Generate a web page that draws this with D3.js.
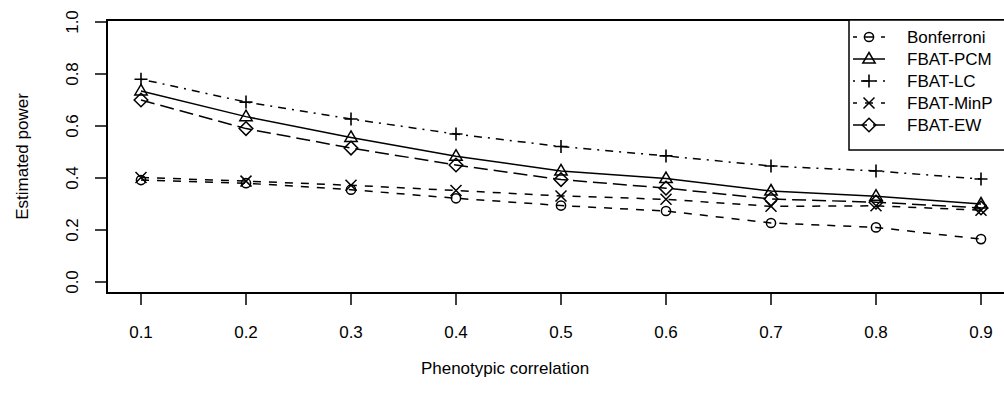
<!DOCTYPE html>
<html>
<head>
<meta charset="utf-8">
<script src="https://cdn.jsdelivr.net/npm/d3@7"></script>
<style>
  body { margin: 0; background: #fff; }
  svg text { font-family: "Liberation Sans", Arial, sans-serif; fill: #000; }
</style>
</head>
<body>
<div class="viz"></div>
<script>
// phenotypic correlation on the x axis
const correlations = [0.1, 0.2, 0.3, 0.4, 0.5, 0.6, 0.7, 0.8, 0.9];
const xTicks = [0.1, 0.2, 0.3, 0.4, 0.5, 0.6, 0.7, 0.8, 0.9];
const yTicks = [0.0, 0.2, 0.4, 0.6, 0.8, 1.0];

const seriesNames = ['Bonferroni', 'FBAT-PCM', 'FBAT-LC', 'FBAT-MinP', 'FBAT-EW'];
const bonferroni = [0.392, 0.380, 0.355, 0.322, 0.294, 0.273, 0.227, 0.210, 0.165];
const fbatPcm    = [0.735, 0.636, 0.556, 0.484, 0.427, 0.398, 0.350, 0.330, 0.300];
const fbatLc     = [0.780, 0.692, 0.627, 0.569, 0.521, 0.485, 0.446, 0.427, 0.396];
const fbatMinP   = [0.402, 0.388, 0.372, 0.352, 0.331, 0.318, 0.291, 0.293, 0.276];
const fbatEw     = [0.700, 0.590, 0.515, 0.450, 0.394, 0.361, 0.319, 0.307, 0.285];

const series = [
  { name: seriesNames[0], values: bonferroni, dash: '8,8',      symbol: 'circle' },
  { name: seriesNames[1], values: fbatPcm,    dash: null,       symbol: 'triangle' },
  { name: seriesNames[2], values: fbatLc,     dash: '2,6,8,6',  symbol: 'plus' },
  { name: seriesNames[3], values: fbatMinP,   dash: '8,8',      symbol: 'cross' },
  { name: seriesNames[4], values: fbatEw,     dash: '14,6',     symbol: 'diamond' }
];

const width = 1004, height = 394;
const box = { left: 107, top: 20, right: 1015, bottom: 293 };
const fontSize = '17px';

const x = d3.scaleLinear().domain([0.1, 0.9]).range([141, 981]);
const y = d3.scaleLinear().domain([0, 1]).range([282, 22]);

const svg = d3.select('.viz').append('svg')
  .attr('width', width)
  .attr('height', height);

// draws one R-style plotting symbol centred on 0,0
function drawSymbol(g, kind) {
  const s = 5.5;
  if (kind === 'circle') {
    g.append('circle').attr('r', 4.6).attr('fill', 'none').attr('stroke', '#000').attr('stroke-width', 1.5);
  } else if (kind === 'triangle') {
    const h = 6.5;
    g.append('path').attr('d', `M0,${-h} L${h * 0.95},${h * 0.62} L${-h * 0.95},${h * 0.62} Z`)
      .attr('fill', 'none').attr('stroke', '#000').attr('stroke-width', 1.5);
  } else if (kind === 'plus') {
    g.append('path').attr('d', `M${-s - 1},0 H${s + 1} M0,${-s - 1} V${s + 1}`)
      .attr('stroke', '#000').attr('stroke-width', 1.6);
  } else if (kind === 'cross') {
    g.append('path').attr('d', `M${-s},${-s} L${s},${s} M${-s},${s} L${s},${-s}`)
      .attr('stroke', '#000').attr('stroke-width', 1.5);
  } else if (kind === 'diamond') {
    const d = 6.8;
    g.append('path').attr('d', `M0,${-d} L${d},0 L0,${d} L${-d},0 Z`)
      .attr('fill', 'none').attr('stroke', '#000').attr('stroke-width', 1.5);
  }
}

const line = d3.line()
  .x((d, i) => x(correlations[i]))
  .y(d => y(d));

// series lines and symbols
series.forEach(s => {
  svg.append('path')
    .datum(s.values)
    .attr('d', line)
    .attr('fill', 'none')
    .attr('stroke', '#000')
    .attr('stroke-width', 1.5)
    .attr('stroke-dasharray', s.dash);

  svg.append('g').selectAll('g')
    .data(s.values)
    .join('g')
    .attr('transform', (d, i) => `translate(${x(correlations[i])},${y(d)})`)
    .each(function () { drawSymbol(d3.select(this), s.symbol); });
});

// plot frame
svg.append('rect')
  .attr('x', box.left).attr('y', box.top)
  .attr('width', box.right - box.left).attr('height', box.bottom - box.top)
  .attr('fill', 'none').attr('stroke', '#000').attr('stroke-width', 2);

// x axis
const xAxis = svg.append('g').attr('transform', `translate(0,${box.bottom})`);
xAxis.selectAll('line').data(xTicks).join('line')
  .attr('x1', d => x(d)).attr('x2', d => x(d))
  .attr('y1', 0).attr('y2', 12)
  .attr('stroke', '#000').attr('stroke-width', 1.5);
xAxis.selectAll('text').data(xTicks).join('text')
  .attr('x', d => x(d)).attr('y', 45)
  .attr('text-anchor', 'middle')
  .style('font-size', fontSize)
  .text(d => d3.format('.1f')(d));

// y axis
const yAxis = svg.append('g').attr('transform', `translate(${box.left},0)`);
yAxis.selectAll('line').data(yTicks).join('line')
  .attr('x1', 0).attr('x2', -12)
  .attr('y1', d => y(d)).attr('y2', d => y(d))
  .attr('stroke', '#000').attr('stroke-width', 1.5);
yAxis.selectAll('text').data(yTicks).join('text')
  .attr('transform', d => `translate(-29,${y(d)}) rotate(-90)`)
  .attr('text-anchor', 'middle')
  .style('font-size', fontSize)
  .text(d => d3.format('.1f')(d));

// axis titles
svg.append('text')
  .attr('x', 505).attr('y', 374)
  .attr('text-anchor', 'middle')
  .style('font-size', fontSize)
  .text('Phenotypic correlation');
svg.append('text')
  .attr('transform', `translate(28,${(box.top + box.bottom) / 2}) rotate(-90)`)
  .attr('text-anchor', 'middle')
  .style('font-size', fontSize)
  .text('Estimated power');

// legend
const legend = svg.append('g');
legend.append('rect')
  .attr('x', 849).attr('y', box.top)
  .attr('width', box.right - 849).attr('height', 130)
  .attr('fill', '#fff').attr('stroke', '#000').attr('stroke-width', 1.5);
series.forEach((s, i) => {
  const ly = 37 + i * 22;
  legend.append('line')
    .attr('x1', 853).attr('x2', 885).attr('y1', ly).attr('y2', ly)
    .attr('stroke', '#000').attr('stroke-width', 1.5)
    .attr('stroke-dasharray', s.dash)
    .attr('stroke-dashoffset', s.dash === '8,8' ? 4 : 0);
  drawSymbol(legend.append('g').attr('transform', `translate(869,${ly})`), s.symbol);
  legend.append('text')
    .attr('x', 907).attr('y', ly + 6)
    .style('font-size', fontSize)
    .text(s.name);
});
</script>
</body>
</html>
